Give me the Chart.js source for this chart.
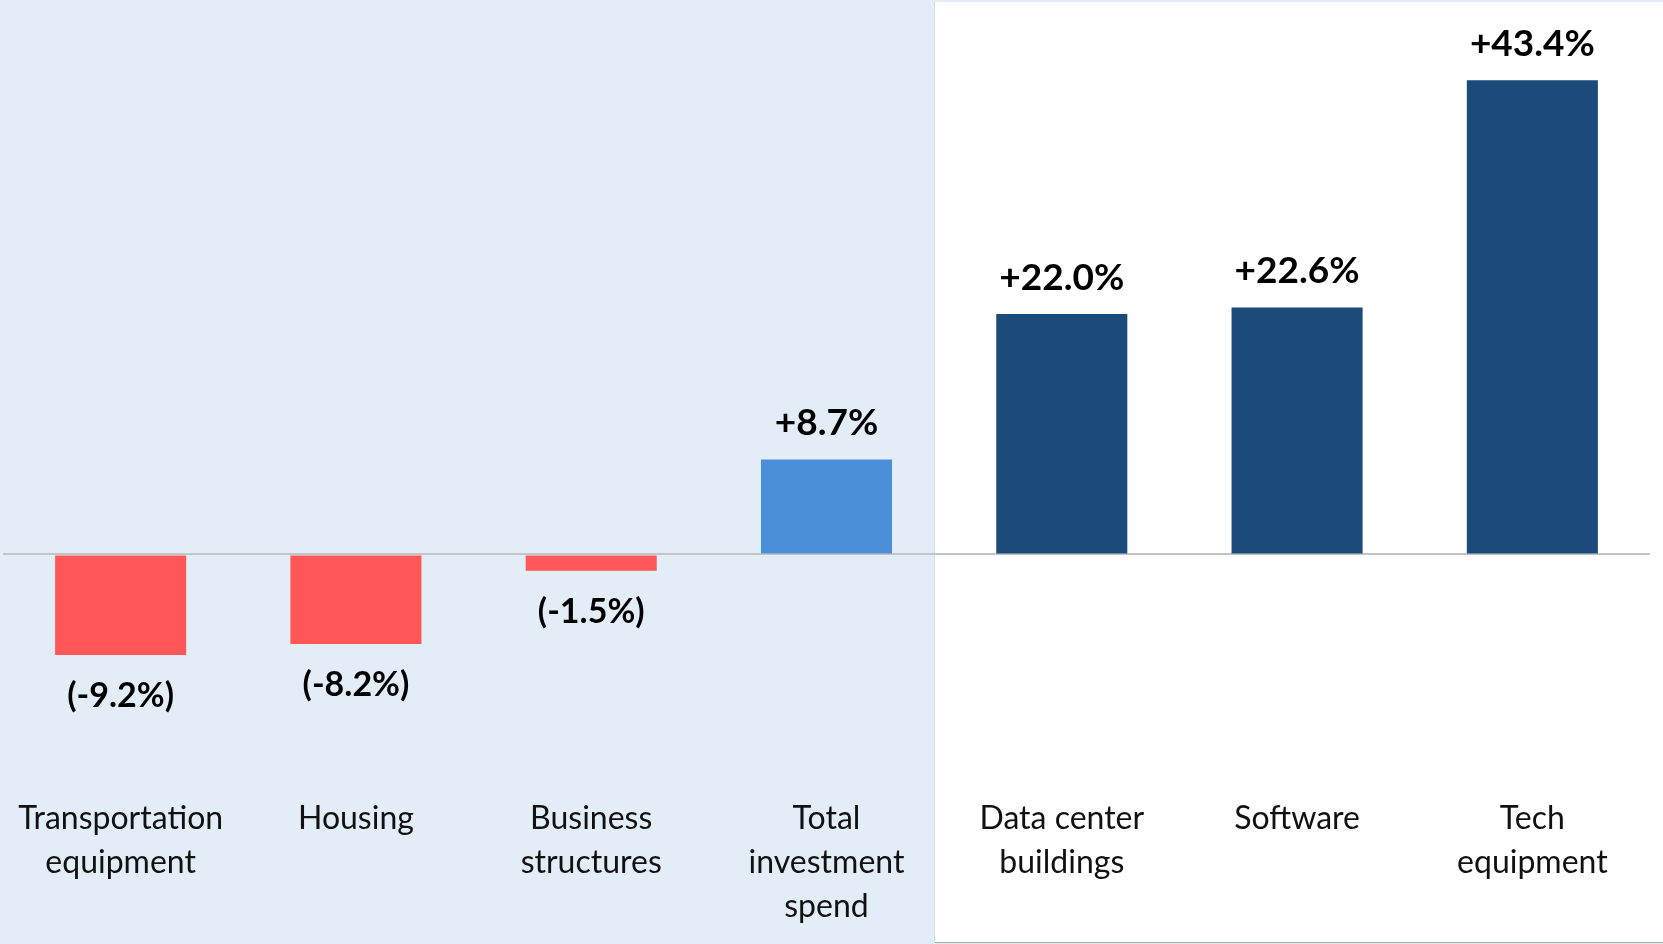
<!DOCTYPE html>
<html>
<head>
<meta charset="utf-8">
<script src="https://cdn.jsdelivr.net/npm/chart.js@4.4.1/dist/chart.umd.min.js"></script>
<style>
  html, body { margin: 0; padding: 0; background: #E2EDF7; }
  #wrap { width: 1663px; height: 944px; position: relative; }
  canvas { display: block; }
</style>
</head>
<body>
<div id="wrap"><canvas id="c" width="1663" height="944"></canvas></div>
<script>
// ---- data ----
const categories = [
  ['Transportation', 'equipment'],
  ['Housing'],
  ['Business', 'structures'],
  ['Total', 'investment', 'spend'],
  ['Data center', 'buildings'],
  ['Software'],
  ['Tech', 'equipment']
];
const growthValues = [-9.2, -8.2, -1.5, 8.7, 22.0, 22.6, 43.4];
const valueLabels = ['(-9.2%)', '(-8.2%)', '(-1.5%)', '+8.7%', '+22.0%', '+22.6%', '+43.4%'];
const totalIndex = 3;

// ---- styles ----
const COLOR_NEG = '#FF5757';
const COLOR_TOTAL = '#4B8FD8';
const COLOR_POS = '#1C4A7A';
const BG_BLUE = '#E2EDF7';
const FONT = 'Lato, "Open Sans", sans-serif';

const backgroundPlugin = {
  id: 'panels',
  beforeDraw(chart) {
    const ctx = chart.ctx;
    const x = chart.scales.x;
    const splitX = Math.round(x.getPixelForValue(totalIndex + 0.457));
    ctx.save();
    ctx.fillStyle = BG_BLUE;
    ctx.fillRect(0, 0, chart.width, chart.height);
    ctx.fillStyle = '#FFFFFF';
    ctx.fillRect(splitX, 2, chart.width - splitX, chart.height - 3);
    ctx.fillStyle = '#A9A9A9';
    ctx.fillRect(splitX, chart.height - 2, chart.width - splitX, 1);
    ctx.fillStyle = '#D6DEE8';
    ctx.fillRect(splitX, 2, 1, chart.height - 3);
    ctx.restore();
  }
};

const valueLabelPlugin = {
  id: 'valueLabels',
  afterDatasetsDraw(chart) {
    const ctx = chart.ctx;
    const meta = chart.getDatasetMeta(0);
    ctx.save();
    ctx.fillStyle = '#000000';
    ctx.textAlign = 'center';
    ctx.textBaseline = 'alphabetic';
    meta.data.forEach((bar, i) => {
      const v = growthValues[i];
      if (v >= 0) {
        ctx.font = 'bold 37px ' + FONT;
        ctx.fillText(valueLabels[i], bar.x, bar.y - 24);
      } else {
        ctx.font = 'bold 34px ' + FONT;
        ctx.fillText(valueLabels[i], bar.x, bar.y + 52);
      }
    });
    ctx.restore();
  }
};

function build() {
  new Chart(document.getElementById('c'), {
    type: 'bar',
    data: {
      labels: categories,
      datasets: [{
        data: growthValues,
        backgroundColor: (c) => c.dataIndex === totalIndex ? COLOR_TOTAL : (growthValues[c.dataIndex] < 0 ? COLOR_NEG : COLOR_POS),
        borderWidth: 0,
        categoryPercentage: 1,
        barPercentage: 0.557
      }]
    },
    options: {
      responsive: false,
      animation: false,
      devicePixelRatio: 1,
      layout: { padding: { top: 8, left: 3, right: 13, bottom: 0 } },
      plugins: { legend: { display: false }, tooltip: { enabled: false } },
      scales: {
        x: {
          grid: { display: false, drawTicks: false },
          border: { display: false },
          ticks: {
            color: '#111111',
            font: { family: FONT, size: 32, lineHeight: '44px' },
            padding: 13,
            maxRotation: 0,
            autoSkip: false
          },
          afterFit(scale) { scale.height = 160; }
        },
        y: {
          min: -21,
          max: 50,
          ticks: { display: false, stepSize: 10 },
          border: { display: false },
          grid: {
            drawTicks: false,
            color: (c) => c.tick && c.tick.value === 0 ? '#C2C4C6' : 'rgba(0,0,0,0)',
            lineWidth: 2
          },
          afterFit(scale) { scale.width = 0; }
        }
      }
    },
    plugins: [backgroundPlugin, valueLabelPlugin]
  });
}

Promise.all([
  document.fonts.load('32px Lato'),
  document.fonts.load('bold 37px Lato')
]).then(build, build);
</script>
</body>
</html>
